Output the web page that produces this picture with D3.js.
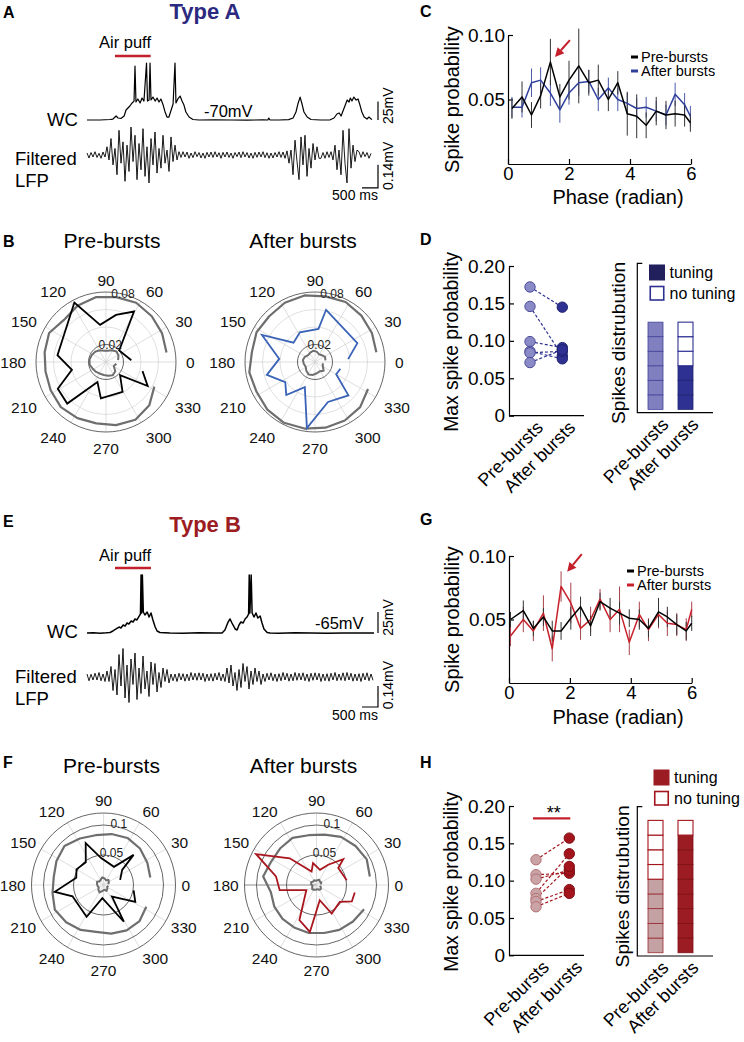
<!DOCTYPE html>
<html><head><meta charset="utf-8">
<script src="https://cdn.jsdelivr.net/npm/d3@7/dist/d3.min.js"></script>
<style>html,body{margin:0;padding:0;background:#fff;}svg{display:block;}</style>
</head><body>
<svg id="fig" width="744" height="1042" xmlns="http://www.w3.org/2000/svg"></svg>
<script>
// ================= DATA =================
const categories = ["Pre-bursts", "After bursts"];

// A / E : recordings (time in s, membrane potential in mV; LFP in mV sampled every lfpDt s)
const airPuffA = [0.875, 1.99];
const airPuffE = [0.875, 2.0];
const wcA = [[0,-70],[0.41,-70],[0.72,-69.3],[0.81,-68.7],[0.91,-64.6],[0.97,-67.3],[1.06,-68],[1.16,-64.6],[1.22,-56.5],[1.28,-53.8],[1.34,-51.1],[1.41,-47],[1.47,-44.4],[1.5,2.9],[1.53,-45.7],[1.59,-41.6],[1.66,-47],[1.72,-40.3],[1.78,-44.4],[1.86,7],[1.89,-44.4],[1.94,-43],[1.97,7],[2.0,-43],[2.06,-39],[2.13,-44.4],[2.19,-40.3],[2.25,-45.7],[2.31,-41.6],[2.38,-49.8],[2.44,-59.2],[2.5,-66],[2.56,-66],[2.63,-56.5],[2.69,-48.4],[2.75,7],[2.78,-47],[2.84,-41.6],[2.91,-37.6],[2.97,-44.4],[3.03,-49.8],[3.09,-59.2],[3.19,-66],[3.31,-69.3],[3.5,-70],[4.0,-69.7],[4.5,-70],[5.0,-70.2],[5.5,-69.8],[5.65,-70],[5.68,-67.5],[5.72,-70],[6.0,-70],[6.3,-69.5],[6.44,-67.3],[6.53,-59.2],[6.59,-48.4],[6.66,-39],[6.72,-48.4],[6.78,-59.2],[6.88,-66],[7.0,-69.3],[7.3,-70],[7.6,-69.7],[7.72,-67.3],[7.81,-61.9],[7.88,-60.5],[7.94,-64.6],[8.0,-57.8],[8.06,-51.1],[8.13,-43],[8.19,-45.7],[8.23,-40.3],[8.28,-44.4],[8.34,-39],[8.41,-43],[8.47,-41.6],[8.53,-49.8],[8.59,-59.2],[8.66,-66],[8.75,-68.7],[8.81,-66],[8.88,-68.7],[8.91,-69.3]];
const wcE = [[0,-65],[0.2,-64.6],[0.41,-65.2],[0.6,-64.8],[0.72,-64.4],[0.81,-62.6],[0.91,-60.2],[1.0,-57.9],[1.06,-59],[1.13,-55.5],[1.19,-56.7],[1.25,-53.1],[1.31,-54.3],[1.38,-50.7],[1.44,-51.9],[1.5,-48.3],[1.56,-49.5],[1.63,-44.8],[1.67,-42.4],[1.69,4],[1.71,-41.2],[1.73,4],[1.76,-40],[1.81,-43.6],[1.88,-40],[1.94,-46],[2.0,-41.2],[2.06,-49.5],[2.13,-57.9],[2.19,-62.6],[2.28,-64.4],[2.59,-65],[3.0,-65.2],[3.5,-64.8],[4.0,-65],[4.22,-65],[4.31,-61.4],[4.41,-51.9],[4.47,-48.3],[4.53,-53.1],[4.63,-60.2],[4.69,-61.4],[4.75,-55.5],[4.81,-51.9],[4.88,-53.1],[4.94,-48.3],[5.0,-46],[5.05,-42.4],[5.07,4],[5.09,-41.2],[5.13,4],[5.16,-41.2],[5.22,-46],[5.28,-41.2],[5.34,-47.2],[5.41,-44.8],[5.47,-53.1],[5.53,-60.2],[5.63,-64.4],[5.72,-65],[6.0,-65.2],[6.5,-64.8],[7.0,-65],[7.5,-65.2],[8.0,-64.9],[8.5,-65.1],[8.97,-65]];
const lfpDt = 0.0625;
const lfpA = [0.012,-0.018,0.015,-0.012,0.02,-0.015,0.01,-0.02,0.018,-0.012,
 0.05,-0.03,0.10,-0.06,0.04,-0.12,0.15,-0.05,0.08,-0.16,0.06,-0.10,0.17,-0.04,0.12,-0.15,0.07,-0.09,0.16,-0.13,0.05,-0.17,0.10,-0.06,0.14,-0.11,0.04,-0.08,0.12,-0.05,0.03,-0.10,0.11,-0.04,0.06,-0.03,0.02,
 -0.015,0.02,-0.012,0.018,-0.02,0.012,-0.016,0.02,-0.01,0.015,-0.018,0.012,-0.02,0.016,-0.012,0.018,-0.015,0.02,-0.012,0.014,-0.02,0.016,-0.012,0.018,-0.015,0.012,-0.02,0.015,-0.01,0.018,-0.016,0.02,-0.012,0.015,-0.018,0.012,-0.02,0.016,-0.014,0.018,-0.012,0.02,-0.016,0.014,-0.02,0.012,-0.018,0.015,-0.012,0.02,-0.015,0.018,-0.02,0.025,
 -0.05,0.03,-0.12,0.09,-0.04,-0.15,0.11,-0.06,0.12,-0.13,0.04,-0.08,0.07,-0.03,0.05,-0.02,
 -0.02,0.015,-0.02,0.02,-0.015,0.02,
 -0.03,0.06,-0.09,0.03,-0.12,0.15,-0.05,-0.17,0.16,-0.08,0.06,-0.04,0.03,
 0.02,-0.015,0.02,-0.01,0.015,-0.02,0.01];
const lfpE = [0.02,-0.025,0.018,-0.02,0.025,-0.02,0.03,-0.025,0.02,-0.03,
 0.04,-0.03,0.07,-0.09,0.05,-0.12,0.15,-0.06,0.19,-0.14,0.08,-0.17,0.12,-0.05,0.16,-0.15,0.06,-0.11,0.14,-0.08,0.04,-0.13,0.10,-0.05,0.09,-0.10,0.03,-0.07,0.06,-0.03,0.05,-0.04,0.02,
 -0.025,0.02,-0.03,0.025,-0.02,0.022,-0.028,0.02,-0.025,0.03,-0.02,0.025,-0.022,0.028,-0.02,0.025,-0.03,0.02,-0.025,0.022,-0.028,0.025,-0.02,0.03,-0.025,0.02,
 -0.03,0.06,-0.04,0.08,-0.06,0.03,-0.09,0.05,-0.07,0.09,-0.03,0.07,-0.08,0.04,-0.05,0.06,-0.03,0.04,-0.05,0.02,-0.03,
 0.025,-0.02,0.028,-0.025,0.02,-0.03,0.022,-0.025,0.03,-0.02,0.025,-0.028,0.02,-0.025,0.03,-0.022,0.025,-0.02,0.028,-0.025,0.02,-0.03,0.025,-0.022,0.028,-0.02,0.025,-0.03,0.02,-0.025,0.022,-0.028,0.025,-0.02,0.03,-0.025,0.02,-0.022,0.028,-0.025,0.03,-0.02,0.025,-0.028,0.02,-0.025,0.022,-0.03,0.025,-0.02,0.028,-0.025,0.02,-0.022];

// C / G : spike probability vs LFP phase
const phaseC = [0.13,0.46,0.77,1.07,1.39,1.70,2.0,2.32,2.65,2.96,3.29,3.6,3.91,4.22,4.53,4.86,5.18,5.48,5.79,5.98];
const preC = [0.043,0.052,0.038,0.053,0.079,0.052,0.065,0.076,0.063,0.065,0.050,0.063,0.039,0.037,0.030,0.041,0.038,0.039,0.038,0.032];
const preCErr = [0.008,0.012,0.010,0.010,0.018,0.010,0.015,0.029,0.010,0.012,0.009,0.009,0.017,0.017,0.010,0.011,0.011,0.010,0.009,0.007];
const afterC = [0.044,0.044,0.063,0.065,0.055,0.042,0.055,0.063,0.064,0.050,0.059,0.050,0.047,0.043,0.044,0.041,0.038,0.054,0.046,0.037];
const afterCErr = [0.008,0.008,0.011,0.010,0.010,0.010,0.009,0.010,0.009,0.009,0.008,0.009,0.008,0.008,0.008,0.008,0.008,0.009,0.009,0.008];
const arrowC = [[2.03,0.096],[1.54,0.083]];
const phaseG = [0.05,0.47,0.80,1.13,1.42,1.71,2.03,2.35,2.68,2.99,3.32,3.63,3.95,4.28,4.58,4.91,5.2,5.51,5.82,6.0];
const preG = [0.050,0.057,0.043,0.052,0.041,0.041,0.051,0.060,0.045,0.064,0.059,0.055,0.051,0.050,0.043,0.056,0.052,0.046,0.041,0.047];
const preGErr = [0.006,0.008,0.006,0.007,0.008,0.007,0.009,0.008,0.008,0.007,0.008,0.009,0.007,0.008,0.007,0.011,0.008,0.008,0.007,0.006];
const afterG = [0.037,0.050,0.041,0.055,0.027,0.076,0.063,0.043,0.050,0.066,0.050,0.058,0.032,0.054,0.042,0.054,0.047,0.046,0.042,0.058];
const afterGErr = [0.008,0.010,0.008,0.014,0.010,0.012,0.016,0.009,0.010,0.008,0.010,0.018,0.010,0.010,0.009,0.011,0.010,0.009,0.009,0.006];
const arrowG = [[2.39,0.1015],[1.91,0.0876]];
const phaseTicks = [0,2,4,6];
const probTicks = [0.05,0.10];

// B / F : polar plots (angle in degrees, spike probability)
const polarBins = [9,27,45,63,81,99,117,135,153,171,189,207,225,243,261,279,297,315,333,351];
const angleLabels = [0,30,60,90,120,150,180,210,240,270,300,330];
const bPreGreyOuter = [0.070,0.072,0.074,0.076,0.075,0.075,0.072,0.068,0.073,0.071,0.070,0.071,0.073,0.072,0.071,0.073,0.074,0.070,0.062,null];
const bPreGreyInner = [0.014,0.016,0.017,0.015,0.013,0.013,0.015,0.017,0.018,0.019,0.019,0.017,0.016,0.015,0.015,0.016,0.017,0.015,0.010,0.012];
const bPreAngles = [4,41,61,78,99,118,172,193,209,227,247,262,299,317,330,346];
const bPreValues = [0.029,0.020,0.066,0.055,0.043,0.077,0.056,0.040,0.063,0.065,0.025,0.042,0.039,0.022,0.055,0.043];
const bAfterGreyOuter = [0.071,0.073,0.075,0.077,0.076,0.077,0.076,0.074,0.075,0.073,0.076,0.075,0.077,0.078,0.077,0.076,0.075,0.073,0.068,null];
const bAfterGreyInner = [0.012,0.013,0.011,0.010,0.012,0.013,0.012,0.011,0.013,0.014,0.013,0.012,0.014,0.016,0.015,0.013,0.012,0.014,0.010,0.009];
const bAfterAngles = [5,24,78,84,117,138,153,175,195,214,229,248,263,288,315,330,345];
const bAfterValues = [0.038,0.053,0.061,0.038,0.038,0.033,0.068,0.041,0.057,0.041,0.050,0.031,0.076,0.048,0.054,0.028,0.030];
const fPreGreyOuter = [0.079,0.082,0.086,0.088,0.086,0.084,0.087,0.092,0.088,0.084,0.086,0.091,0.088,0.084,0.079,0.082,0.085,0.085,0.080,null];
const fPreGreyInner = [0.008,0.010,0.012,0.009,0.011,0.013,0.010,0.009,0.012,0.011,0.010,0.009,0.012,0.014,0.010,0.008,0.011,0.009,0.007,0.008];
const fPreAngles = [17,39,45,60,95,113,128,150,165,188,200,242,265,299,306,332,350];
const fPreValues = [0.029,0.040,0.071,0.035,0.045,0.076,0.048,0.052,0.047,0.082,0.055,0.060,0.022,0.070,0.024,0.060,0.051];
const fAfterGreyOuter = [0.090,0.094,0.092,0.090,0.085,0.084,0.088,0.086,0.085,0.090,0.077,0.079,0.080,0.080,0.081,0.081,0.084,0.086,0.089,null];
const fAfterGreyInner = [0.007,0.009,0.008,0.010,0.008,0.007,0.009,0.008,0.010,0.009,0.007,0.008,0.010,0.009,0.008,0.007,0.009,0.010,0.008,0.006];
const fAfterAngles = [9,38,44,60,77,99,110,135,153,168,188,207,244,262,282,298,324,335,349];
const fAfterValues = [0.051,0.046,0.062,0.039,0.026,0.037,0.024,0.063,0.113,0.069,0.062,0.019,0.065,0.079,0.026,0.054,0.048,0.065,0.065];

// D / H : max spike probability per cell, and tuning counts
const maxTicks = [0,0.05,0.10,0.15,0.20];
const dPre = [0.172,0.146,0.099,0.086,0.084,0.071];
const dAfter = [0.145,0.080,0.091,0.076,0.086,0.088];
const hPre = [0.128,0.108,0.102,0.083,0.076,0.072,0.065];
const hAfter = [0.157,0.110,0.114,0.136,0.119,0.088,0.083];
const dTuning = [6,3];
const dNoTuning = [0,3];
const hTuning = [5,8];
const hNoTuning = [4,1];

// ================= DRAWING =================
const FONT = '"Liberation Sans", Arial, Helvetica, sans-serif';
const svg = d3.select("#fig");
const NAVY = "#2c2a80", DARKRED = "#9b1c22", PUFF = "#c4202b";

function T(x, y, s, size, o = {}) {
  const t = svg.append("text").attr("x", x).attr("y", y).attr("font-size", size)
    .attr("font-family", FONT).attr("fill", o.fill || "#000")
    .attr("text-anchor", o.anchor || "start").text(s);
  if (o.bold) t.attr("font-weight", "bold");
  return t;
}
function TR(x, y, s, size, angle, o = {}) {
  return svg.append("text").attr("transform", `translate(${x},${y}) rotate(${angle})`)
    .attr("font-size", size).attr("font-family", FONT).attr("fill", o.fill || "#000")
    .attr("text-anchor", o.anchor || "middle").text(s);
}
function styleAxis(g, fs) {
  g.attr("font-family", FONT).attr("font-size", fs);
  g.selectAll("path.domain").attr("stroke", "#000").attr("stroke-width", 1.2);
  g.selectAll(".tick line").attr("stroke", "#000").attr("stroke-width", 1.2);
  g.selectAll(".tick text").attr("fill", "#000");
}

// Panel letters
[["A",3,18],["B",3,247],["C",420,17],["D",420,245],["E",3,527],["F",3,768],["G",420,525],["H",420,768]]
  .forEach(([l,x,y]) => T(x, y, l, 16, {bold: true}));

// ---------- A / E traces ----------
const xT = d3.scaleLinear().domain([0, 9]).range([87, 375]);
function tracePanel(o) {
  T(205, o.titleY, o.title, 22, {bold: true, fill: o.titleColor, anchor: "middle"});
  T(99, o.puffTextY, "Air puff", 16.5);
  svg.append("line").attr("x1", xT(o.puff[0])).attr("x2", xT(o.puff[1]))
    .attr("y1", o.puffY).attr("y2", o.puffY).attr("stroke", PUFF).attr("stroke-width", 2.5);
  const yW = d3.scaleLinear().domain([o.base, o.base + 25]).range([o.wcY0, o.wcY0 - o.px25]);
  const yL = d3.scaleLinear().domain([0, 0.14]).range([o.lfpY0, o.lfpY0 - o.px014]);
  svg.append("path").datum(o.wc).attr("fill", "none").attr("stroke", "#000")
    .attr("stroke-width", o.wcW).attr("stroke-linejoin", "round")
    .attr("d", d3.line().x(d => xT(d[0])).y(d => yW(d[1])));
  svg.append("path").datum(o.lfp).attr("fill", "none").attr("stroke", "#000")
    .attr("stroke-width", 0.9)
    .attr("d", d3.line().x((d, i) => xT(i * lfpDt)).y(d => yL(d)));
  T(47, o.wcLabY, "WC", 18.5);
  T(15, o.filtY, "Filtered", 18.5);
  T(15, o.filtY + 22, "LFP", 18.5);
  T(o.mvX, o.mvY, o.base + "mV", 16.5);
  const bx = 378;
  svg.append("line").attr("x1", bx).attr("x2", bx).attr("y1", yW(o.base)).attr("y2", yW(o.base + 25))
    .attr("stroke", "#000").attr("stroke-width", 1.2);
  TR(393, (yW(o.base) + yW(o.base + 25)) / 2 - 5, "25mV", 14, -90);
  const yb0 = yL(-0.2), yb1 = yL(-0.06);
  svg.append("path").attr("d", `M${bx},${yb1}V${yb0}H${bx - (xT(0.5) - xT(0))}`)
    .attr("fill", "none").attr("stroke", "#000").attr("stroke-width", 1.2);
  TR(393, yb0 - 22, "0.14mV", 14, -90);
  T(bx, yb0 + 12.5, "500 ms", 14, {anchor: "end"});
}
tracePanel({title: "Type A", titleY: 19, titleColor: NAVY, puff: airPuffA, puffTextY: 48, puffY: 56,
  base: -70, wc: wcA, wcY0: 120, px25: 18.5, wcW: 1.2, lfp: lfpA, lfpY0: 155, px014: 23,
  wcLabY: 126, filtY: 165, mvX: 204, mvY: 117});
tracePanel({title: "Type B", titleY: 532, titleColor: DARKRED, puff: airPuffE, puffTextY: 561, puffY: 568,
  base: -65, wc: wcE, wcY0: 633, px25: 21, wcW: 1.5, lfp: lfpE, lfpY0: 677, px014: 21,
  wcLabY: 638, filtY: 683, mvX: 315, mvY: 629});

// ---------- C / G phase plots ----------
function phasePanel(o) {
  const x = d3.scaleLinear().domain([0, 6]).range([o.xL, o.xR]);
  const y = d3.scaleLinear().domain([0, 0.1]).range([o.yBot, o.yTop]);
  const gx = svg.append("g").attr("transform", `translate(0,${o.yBot})`)
    .call(d3.axisBottom(x).tickValues(phaseTicks).tickFormat(d3.format("d")).tickSize(-5).tickSizeOuter(0).tickPadding(3));
  styleAxis(gx, 18.5);
  const gy = svg.append("g").attr("transform", `translate(${o.xL},0)`)
    .call(d3.axisLeft(y).tickValues(probTicks).tickFormat(d3.format(".2f")).tickSize(-5).tickSizeOuter(0).tickPadding(3));
  styleAxis(gy, 19);
  TR(459, (o.yTop + o.yBot) / 2, "Spike probability", 20, -90);
  T(618, o.xLabY, "Phase (radian)", 20, {anchor: "middle"});
  const series = [
    {v: o.after, e: o.afterErr, c: o.afterColor, ec: o.afterErrColor},
    {v: o.pre, e: o.preErr, c: "#000", ec: "#333"}];
  series.forEach(s => {
    svg.append("g").selectAll("line").data(s.v).join("line")
      .attr("x1", (d, i) => x(o.phase[i])).attr("x2", (d, i) => x(o.phase[i]))
      .attr("y1", (d, i) => y(d - s.e[i])).attr("y2", (d, i) => y(d + s.e[i]))
      .attr("stroke", s.ec).attr("stroke-width", 1);
  });
  series.forEach(s => {
    svg.append("path").datum(s.v).attr("fill", "none").attr("stroke", s.c).attr("stroke-width", 1.5)
      .attr("stroke-linejoin", "round")
      .attr("d", d3.line().x((d, i) => x(o.phase[i])).y(d => y(d)));
  });
  const lx = o.legX;
  [["Pre-bursts", "#000", 0], ["After bursts", o.afterColor, 14]].forEach(([t, c, dy]) => {
    svg.append("line").attr("x1", lx).attr("x2", lx + 7).attr("y1", o.legY + dy - 4.5).attr("y2", o.legY + dy - 4.5)
      .attr("stroke", c).attr("stroke-width", 3);
    T(lx + 10, o.legY + dy, t, 14.5);
  });
  const [p0, p1] = o.arrow;
  const ax0 = x(p0[0]), ay0 = y(p0[1]), ax1 = x(p1[0]), ay1 = y(p1[1]);
  const L = Math.hypot(ax1 - ax0, ay1 - ay0), ux = (ax1 - ax0) / L, uy = (ay1 - ay0) / L;
  const hl = 9, hw = 4.5, bxp = ax1 - ux * hl, byp = ay1 - uy * hl;
  svg.append("line").attr("x1", ax0).attr("y1", ay0).attr("x2", bxp).attr("y2", byp)
    .attr("stroke", PUFF).attr("stroke-width", 2);
  svg.append("path").attr("d", `M${ax1},${ay1}L${bxp - uy * hw},${byp + ux * hw}L${bxp + uy * hw},${byp - ux * hw}Z`)
    .attr("fill", PUFF);
}
phasePanel({xL: 508, xR: 691, yTop: 35, yBot: 164, xLabY: 204, phase: phaseC, pre: preC, preErr: preCErr,
  after: afterC, afterErr: afterCErr, afterColor: "#2e3f9c", afterErrColor: "#4b5aa8",
  legX: 631, legY: 61.5, arrow: arrowC});
phasePanel({xL: 509, xR: 691.7, yTop: 556, yBot: 683, xLabY: 724, phase: phaseG, pre: preG, preErr: preGErr,
  after: afterG, afterErr: afterGErr, afterColor: "#c8202a", afterErrColor: "#a8424a",
  legX: 627, legY: 575.5, arrow: arrowG});

// ---------- B / F polar plots ----------
function polarPlot(o) {
  const g = svg.append("g").attr("transform", `translate(${o.cx},${o.cy})`);
  const r = d3.scaleLinear().domain([0, o.rmax]).range([0, o.R]);
  o.light.forEach(v => g.append("circle").attr("r", r(v)).attr("fill", "none").attr("stroke", "#d2d2d2").attr("stroke-width", 0.7));
  angleLabels.forEach(a => {
    const rad = a * Math.PI / 180;
    g.append("line").attr("x1", 0).attr("y1", 0).attr("x2", o.R * Math.cos(rad)).attr("y2", -o.R * Math.sin(rad))
      .attr("stroke", (o.darkSpoke === a) ? "#8a8a8a" : "#d0d0d0").attr("stroke-width", (o.darkSpoke === a) ? 1 : 0.7);
  });
  o.dark.forEach(v => g.append("circle").attr("r", r(v)).attr("fill", "none").attr("stroke", "#555").attr("stroke-width", 0.9));
  const radial = d3.lineRadial().angle(d => (90 - d[0]) * Math.PI / 180).radius(d => r(d[1])).defined(d => d[1] != null);
  const binned = vals => polarBins.map((a, i) => [a, vals[i]]);
  g.append("path").datum(binned(o.greyOuter)).attr("fill", "none").attr("stroke", "#6e6e6e").attr("stroke-width", 2.2)
    .attr("stroke-linejoin", "round").attr("d", radial);
  g.append("path").datum(binned(o.greyInner)).attr("fill", "none").attr("stroke", "#6e6e6e").attr("stroke-width", 2)
    .attr("stroke-linejoin", "round").attr("d", radial);
  g.append("path").datum(o.angles.map((a, i) => [a, o.values[i]])).attr("fill", "none").attr("stroke", o.color)
    .attr("stroke-width", 1.8).attr("stroke-linejoin", "miter").attr("d", radial);
  o.ringLabels.forEach(([v, s]) => {
    const rr = r(v) + o.labOff, a = 76 * Math.PI / 180;
    g.append("text").attr("x", rr * Math.cos(a)).attr("y", -rr * Math.sin(a)).attr("dy", "0.35em")
      .attr("text-anchor", "middle").attr("font-size", 12).attr("font-family", FONT).attr("fill", "#222").text(s);
  });
  angleLabels.forEach(a => {
    const rad = a * Math.PI / 180, s = String(a), w = s.length * 8.5;
    const c = Math.cos(rad), sn = Math.sin(rad);
    const lx = o.labRx * c + (Math.abs(c) > 0.1 ? Math.sign(c) * w / 2 : 0);
    const ly = -o.labRy * sn + (sn < -0.1 ? o.bottomExtra : 0);
    g.append("text").attr("x", lx).attr("y", ly).attr("dy", "0.36em")
      .attr("text-anchor", "middle").attr("font-size", 15.5).attr("font-family", FONT).attr("fill", "#111").text(s);
  });
  T(o.cx + o.titleDx, o.titleY, o.title, 21, {anchor: "middle"});
}
polarPlot({cx: 106, cy: 362, R: 70, rmax: 0.08, light: [0.04, 0.06], dark: [0.02, 0.08],
  ringLabels: [[0.02, "0.02"], [0.08, "0.08"]], labOff: 0, labRx: 80, labRy: 82, bottomExtra: 4,
  greyOuter: bPreGreyOuter, greyInner: bPreGreyInner,
  angles: bPreAngles, values: bPreValues, color: "#000", title: "Pre-bursts", titleY: 248, titleDx: 6});
polarPlot({cx: 315, cy: 362, R: 70, rmax: 0.08, light: [0.04, 0.06], dark: [0.02, 0.08],
  ringLabels: [[0.02, "0.02"], [0.08, "0.08"]], labOff: 0, labRx: 80, labRy: 82, bottomExtra: 4,
  greyOuter: bAfterGreyOuter, greyInner: bAfterGreyInner,
  angles: bAfterAngles, values: bAfterValues, color: "#3a62b6", title: "After bursts", titleY: 248, titleDx: -12});
polarPlot({cx: 103.5, cy: 885, R: 72, rmax: 0.12, light: [], dark: [0.05, 0.1, 0.12],
  ringLabels: [[0.05, "0.05"], [0.1, "0.1"]], labOff: 3, labRx: 78, labRy: 85, bottomExtra: 0,
  greyOuter: fPreGreyOuter, greyInner: fPreGreyInner,
  angles: fPreAngles, values: fPreValues, color: "#000", title: "Pre-bursts", titleY: 773, titleDx: 8});
polarPlot({cx: 316.5, cy: 885, R: 72, rmax: 0.12, light: [], dark: [0.05, 0.1, 0.12],
  ringLabels: [[0.05, "0.05"], [0.1, "0.1"]], labOff: 3, labRx: 78, labRy: 85, bottomExtra: 0,
  greyOuter: fAfterGreyOuter, greyInner: fAfterGreyInner,
  angles: fAfterAngles, values: fAfterValues, color: "#a8151d", title: "After bursts", titleY: 773, titleDx: -13,
  darkSpoke: 180});

// ---------- D / H ----------
function catLabel(x, y, s) { TR(x, y, s, 18, -45, {anchor: "end"}); }
function dotPanel(o) {
  const y = d3.scaleLinear().domain([0, 0.2]).range([o.yBot, o.yTop]);
  const x = d3.scalePoint().domain(categories).range(o.cats);
  const gy = svg.append("g").attr("transform", `translate(${o.xL},0)`)
    .call(d3.axisLeft(y).tickValues(maxTicks).tickFormat(d => d === 0 ? "0" : d.toFixed(2)).tickSize(-5).tickSizeOuter(0).tickPadding(4));
  styleAxis(gy, 19);
  svg.append("line").attr("x1", o.xL).attr("x2", o.xR).attr("y1", o.yBot).attr("y2", o.yBot)
    .attr("stroke", "#000").attr("stroke-width", 1.2);
  TR(458, (o.yTop + o.yBot) / 2 + 1, "Max spike probability", 19.3, -90);
  const pairs = o.pre.map((p, i) => [p, o.after[i]]);
  svg.append("g").selectAll("line").data(pairs).join("line")
    .attr("x1", x(categories[0])).attr("x2", x(categories[1]))
    .attr("y1", d => y(d[0])).attr("y2", d => y(d[1]))
    .attr("stroke", o.lineColor).attr("stroke-width", 1.2).attr("stroke-dasharray", "3,2");
  svg.append("g").selectAll("circle").data(o.pre).join("circle")
    .attr("cx", x(categories[0])).attr("cy", d => y(d)).attr("r", 5.2)
    .attr("fill", o.preFill).attr("stroke", o.preStroke).attr("stroke-width", 1);
  svg.append("g").selectAll("circle").data(o.after).join("circle")
    .attr("cx", x(categories[1])).attr("cy", d => y(d)).attr("r", 5.2)
    .attr("fill", o.afterFill).attr("stroke", o.afterStroke).attr("stroke-width", 1);
  categories.forEach(c => catLabel(x(c) + 14, o.yBot + 13, c));
  if (o.sig) {
    const sy = y(o.sig);
    svg.append("line").attr("x1", x(categories[0]) - 3).attr("x2", x(categories[1]) + 1)
      .attr("y1", sy).attr("y2", sy).attr("stroke", PUFF).attr("stroke-width", 2.2);
    T((x(categories[0]) + x(categories[1])) / 2 + 1, sy + 1, "**", 18, {anchor: "middle"});
  }
}
dotPanel({yTop: 266, yBot: 415.7, xL: 509, xR: 584, cats: [530, 562.3], pre: dPre, after: dAfter,
  lineColor: "#2e3192", preFill: "#8a8ac6", preStroke: "#4d4d9c", afterFill: "#2e3192", afterStroke: "#1f2270"});
dotPanel({yTop: 806, yBot: 955.3, xL: 509, xR: 584, cats: [536, 569.3], pre: hPre, after: hAfter,
  lineColor: "#a3141c", preFill: "#c9a3a6", preStroke: "#b47478", afterFill: "#a3141c", afterStroke: "#7d0e14", sig: 0.1835});

function barPanel(o) {
  const y = d3.scaleLinear().domain(o.yDomain).range([o.yBot, o.yTop]);
  const x = d3.scalePoint().domain(categories).range([655.5, 685.5]);
  const bw = 15;
  svg.append("path").attr("d", `M${o.xL + 5},${o.yTop}H${o.xL}V${o.yBot}H${o.xR}`)
    .attr("fill", "none").attr("stroke", "#000").attr("stroke-width", 1.2);
  TR(o.labX, (o.yTop + o.yBot) / 2 + 5, "Spikes distrubution", 19.2, -90);
  categories.forEach((c, i) => {
    const cells = [];
    for (let k = 0; k < o.tuning[i]; k++) cells.push({k, t: true});
    for (let k = o.tuning[i]; k < o.tuning[i] + o.noTuning[i]; k++) cells.push({k, t: false});
    svg.append("g").selectAll("rect").data(cells).join("rect")
      .attr("x", x(c) - bw / 2).attr("width", bw)
      .attr("y", d => y(d.k + 1)).attr("height", d => y(d.k) - y(d.k + 1))
      .attr("fill", d => d.t ? o.tuneFill[i] : "#fff")
      .attr("stroke", d => d.t ? o.tuneStroke[i] : o.openStroke).attr("stroke-width", d => d.t ? 0.8 : 1.1);
    catLabel(x(c) + 14, o.yBot + 13, c);
  });
  svg.append("rect").attr("x", o.legX).attr("y", o.legY).attr("width", 15).attr("height", 15)
    .attr("fill", o.legFill).attr("stroke", o.legFill);
  svg.append("rect").attr("x", o.legX + 0.75).attr("y", o.legY + 21.5).attr("width", 13.5).attr("height", 13.5)
    .attr("fill", "#fff").attr("stroke", o.openStroke).attr("stroke-width", 1.6);
  T(o.legX + 20, o.legY + 12.5, "tuning", 16);
  T(o.legX + 20, o.legY + 34, "no tuning", 16);
}
barPanel({yDomain: [-0.23, 10.05], yBot: 412.7, yTop: 263.3, xL: 637.3, xR: 713, labX: 625,
  tuning: dTuning, noTuning: dNoTuning, tuneFill: ["#8080c0", "#2e3192"], tuneStroke: ["#42429a", "#20236e"],
  openStroke: "#2e3192", legX: 649.5, legY: 265, legFill: "#211f5c"});
barPanel({yDomain: [-0.22, 9.93], yBot: 956, yTop: 806.7, xL: 637.3, xR: 713, labX: 629,
  tuning: hTuning, noTuning: hNoTuning, tuneFill: ["#c4a2a4", "#9b1c22"], tuneStroke: ["#9b2a30", "#7e1116"],
  openStroke: "#a3141c", legX: 654, legY: 770, legFill: "#9b1c22"});
</script>
</body></html>
